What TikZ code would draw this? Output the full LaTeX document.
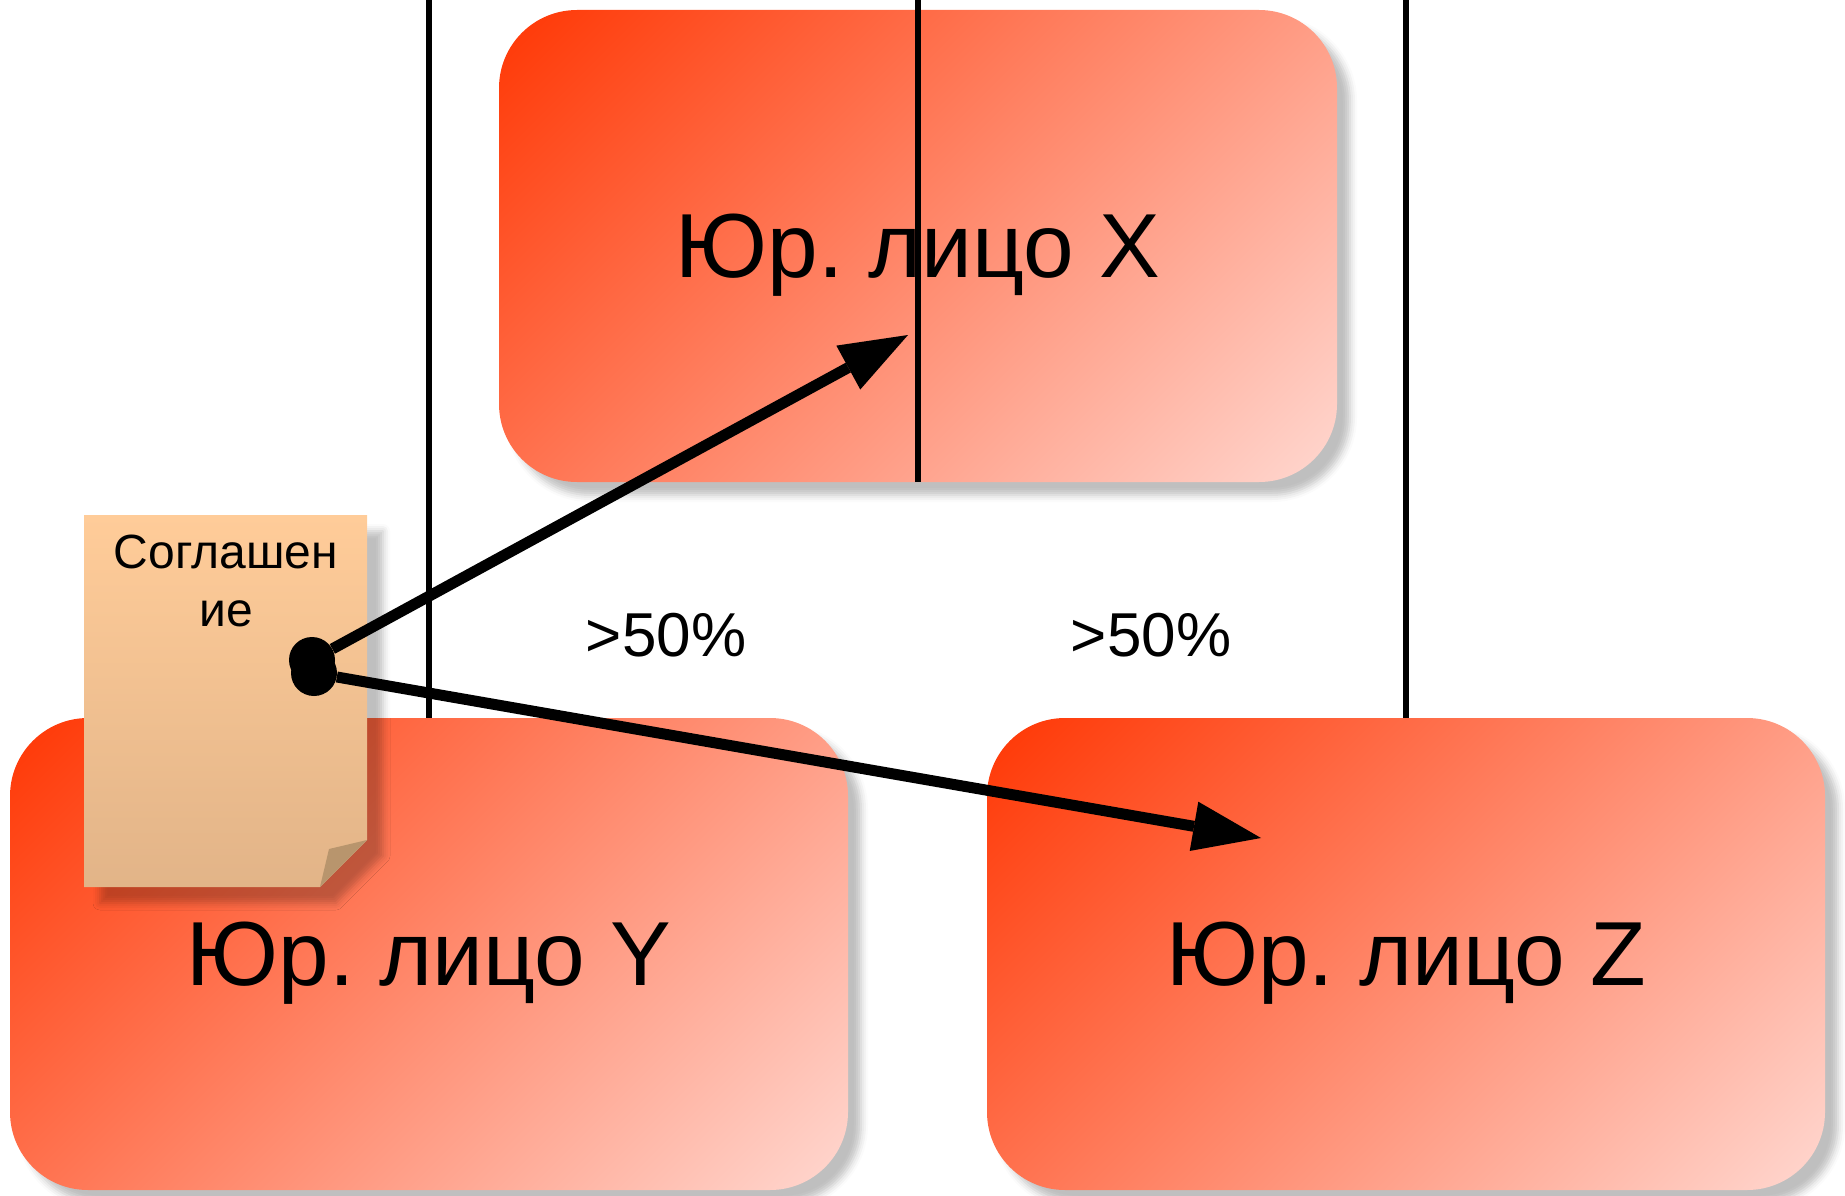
\documentclass[tikz,border=0pt]{standalone}
\usepackage{fontspec}
\setmainfont{Liberation Sans}
\usetikzlibrary{arrows.meta,shadows.blur}
\definecolor{firmred}{HTML}{FF3A08}
\definecolor{firmpink}{HTML}{FFD9D2}
\definecolor{papertop}{HTML}{FFCC99}
\definecolor{paperlow}{HTML}{E2B488}
\definecolor{foldcol}{HTML}{B8956D}
\pgfdeclareverticalshading{firmfade}{100bp}{color(0bp)=(firmpink); color(14bp)=(firmpink); color(84bp)=(firmred); color(100bp)=(firmred)}
\tikzstyle{firm}=[rounded corners=78pt, minimum width=838pt, minimum height=472pt, shading=firmfade, shading angle=45, inner sep=0pt, text depth=0pt, blur shadow={shadow xshift=13pt, shadow yshift=-13pt, shadow blur radius=7pt, shadow opacity=25}, font=\fontsize{91}{91}\selectfont]
\tikzstyle{paper}=[top color=papertop, bottom color=paperlow, blur shadow={shadow xshift=16pt, shadow yshift=-16pt, shadow blur radius=7pt, shadow opacity=25}]
\tikzstyle{dot}=[circle, fill=black, inner sep=0pt, minimum size=46pt]
\tikzstyle{share}=[font=\fontsize{62}{62}\selectfont]
\tikzstyle{pole}=[line width=6.5pt]
\tikzstyle{link}=[line width=11pt, opacity=1, -{Triangle[length=68pt, width=50pt, line width=0pt, fill=black]}]

\frenchspacing
\begin{document}
\begin{tikzpicture}[x=1pt, y=-1pt]
                    \useasboundingbox (0,0) rectangle (1845,1196);
                    % poles come down from the top edge
                    \coordinate (ty) at (429, 0);
                    \coordinate (tx) at (918, 0);
                    \coordinate (tz) at (1406, 0);
                    \node[firm] (fx) at (918,  246) {Юр. лицо X};
                    \node[firm] (fy) at (429,  954) {Юр. лицо Y};
                    \node[firm] (fz) at (1406, 954) {Юр. лицо Z};
                    \draw[pole] (fy.north)--(ty);
                    \draw[pole] (fx.south)--(tx);
                    \draw[pole] (fz.north)--(tz);
                    \node[share] (px) at (666,  635) {>50\%};
                    \node[share] (pz) at (1151, 635) {>50\%};
                    % the paper with its folded corner
                    \path[paper] (84,515)--(367,515)--(367,840)--(320,887)--(84,887)--cycle;
                    \fill[foldcol] (320,887)--(329,849)--(367,840)--cycle;
                    \node[font=\fontsize{48}{58}\selectfont, align=center] (doc) at (226, 581) {Соглашен\\ие};
                    \coordinate (hx) at (908, 335);
                    \coordinate (hz) at (1261, 838);
                    \node[dot] (d1) at (312, 660) {};
                    \node[dot] (d2) at (314, 673) {};
                    \draw[link] (d1)--(hx);
                    \draw[link] (d2)--(hz);
                \end{tikzpicture}
\end{document}
